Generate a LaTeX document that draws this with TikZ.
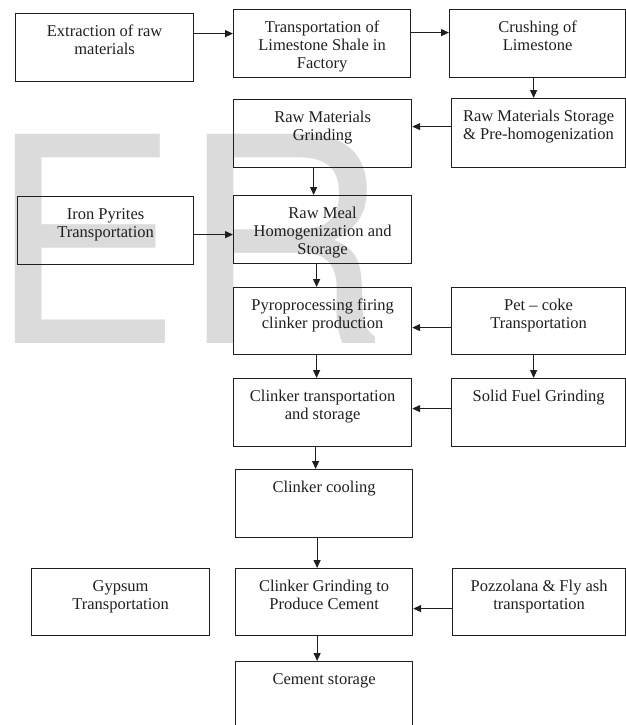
\documentclass[tikz,border=0pt]{standalone}
\usepackage{fontspec}
\setmainfont{Liberation Serif}
\newfontfamily\wmfont{TeX Gyre Heros}
\usetikzlibrary{arrows.meta}
\definecolor{wm}{gray}{0.86}
\definecolor{ink}{gray}{0.12}
\newcommand\stagetxt[3]{\parbox[c][#2][t]{#1}{\centering\rule{0pt}{22.5pt}#3}}
\tikzset{
  stagebox/.style={draw=ink, line width=1.2pt, inner sep=0pt, anchor=north west,
    font=\fontsize{16.5}{18.2}\selectfont, text=ink},
  arr/.style={draw=ink, line width=1.2pt, -{Triangle[length=8pt,width=7pt]}}
}
\begin{document}
\begin{tikzpicture}[x=1pt,y=-1pt]
\useasboundingbox (0,0) rectangle (626,725);
\clip (0,0) rectangle (626,725);
% watermark
\node[anchor=base west, inner sep=0pt, text=wm] (wmark) at (-10.7,343)
  {\wmfont\fontsize{287}{287}\selectfont ER};
% boxes
\node[stagebox] (b1) at (15,13) {\stagetxt{178pt}{68pt}{Extraction of raw\\materials}};
\node[stagebox] (b2) at (233,9) {\stagetxt{177pt}{68pt}{Transportation of\\Limestone Shale in\\Factory}};
\node[stagebox] (b3) at (449,9) {\stagetxt{176pt}{68pt}{Crushing of\\Limestone}};
\node[stagebox] (b4) at (451,98) {\stagetxt{174pt}{69pt}{Raw Materials Storage\\\& Pre-homogenization}};
\node[stagebox] (b5) at (233,99) {\stagetxt{178pt}{68pt}{Raw Materials\\Grinding}};
\node[stagebox] (b6) at (17,196) {\stagetxt{176pt}{68pt}{Iron Pyrites\\Transportation}};
\node[stagebox] (b7) at (233,195) {\stagetxt{178pt}{68pt}{Raw Meal\\Homogenization and\\Storage}};
\node[stagebox] (b8) at (233,287) {\stagetxt{178pt}{67pt}{Pyroprocessing firing\\clinker production}};
\node[stagebox] (b9) at (451,287) {\stagetxt{174pt}{67pt}{Pet -- coke\\Transportation}};
\node[stagebox] (b10) at (233,378) {\stagetxt{178pt}{68pt}{Clinker transportation\\and storage}};
\node[stagebox] (b11) at (451,378) {\stagetxt{174pt}{68pt}{Solid Fuel Grinding}};
\node[stagebox] (b12) at (235,469) {\stagetxt{177pt}{68pt}{Clinker cooling}};
\node[stagebox] (b13) at (31,568) {\stagetxt{178pt}{67pt}{Gypsum\\Transportation}};
\node[stagebox] (b14) at (235,568) {\stagetxt{177pt}{67pt}{Clinker Grinding to\\Produce Cement}};
\node[stagebox] (b15) at (452,568) {\stagetxt{173pt}{67pt}{Pozzolana \& Fly ash\\transportation}};
\node[stagebox] (b16) at (235,661) {\stagetxt{177pt}{110pt}{Cement storage}};
% connectors
\draw[arr] ([yshift=14pt]b1.east) -- ([yshift=14pt]b1.east -| b2.west);
\draw[arr] ([yshift=11pt]b2.east) -- ([yshift=11pt]b2.east -| b3.west);
\draw[arr] ([xshift=-4pt]b3.south) -- ([xshift=-4pt]b3.south |- b4.north);
\draw[arr] ([yshift=6.5pt]b4.west) -- ([yshift=6.5pt]b4.west -| b5.east);
\draw[arr] ([xshift=-9pt]b5.south) -- ([xshift=-9pt]b5.south |- b7.north);
\draw[arr] ([yshift=-4pt]b6.east) -- ([yshift=-4pt]b6.east -| b7.west);
\draw[arr] ([xshift=-6pt]b7.south) -- ([xshift=-6pt]b7.south |- b8.north);
\draw[arr] ([yshift=-6.5pt]b9.west) -- ([yshift=-6.5pt]b9.west -| b8.east);
\draw[arr] ([xshift=-6pt]b8.south) -- ([xshift=-6pt]b8.south |- b10.north);
\draw[arr] ([xshift=-5pt]b9.south) -- ([xshift=-5pt]b9.south |- b11.north);
\draw[arr] ([yshift=4pt]b11.west) -- ([yshift=4pt]b11.west -| b10.east);
\draw[arr] ([xshift=-7pt]b10.south) -- ([xshift=-7pt]b10.south |- b12.north);
\draw[arr] ([xshift=-7pt]b12.south) -- ([xshift=-7pt]b12.south |- b14.north);
\draw[arr] ([yshift=-6.5pt]b15.west) -- ([yshift=-6.5pt]b15.west -| b14.east);
\draw[arr] ([xshift=-7pt]b14.south) -- ([xshift=-7pt]b14.south |- b16.north);
\end{tikzpicture}
\end{document}
